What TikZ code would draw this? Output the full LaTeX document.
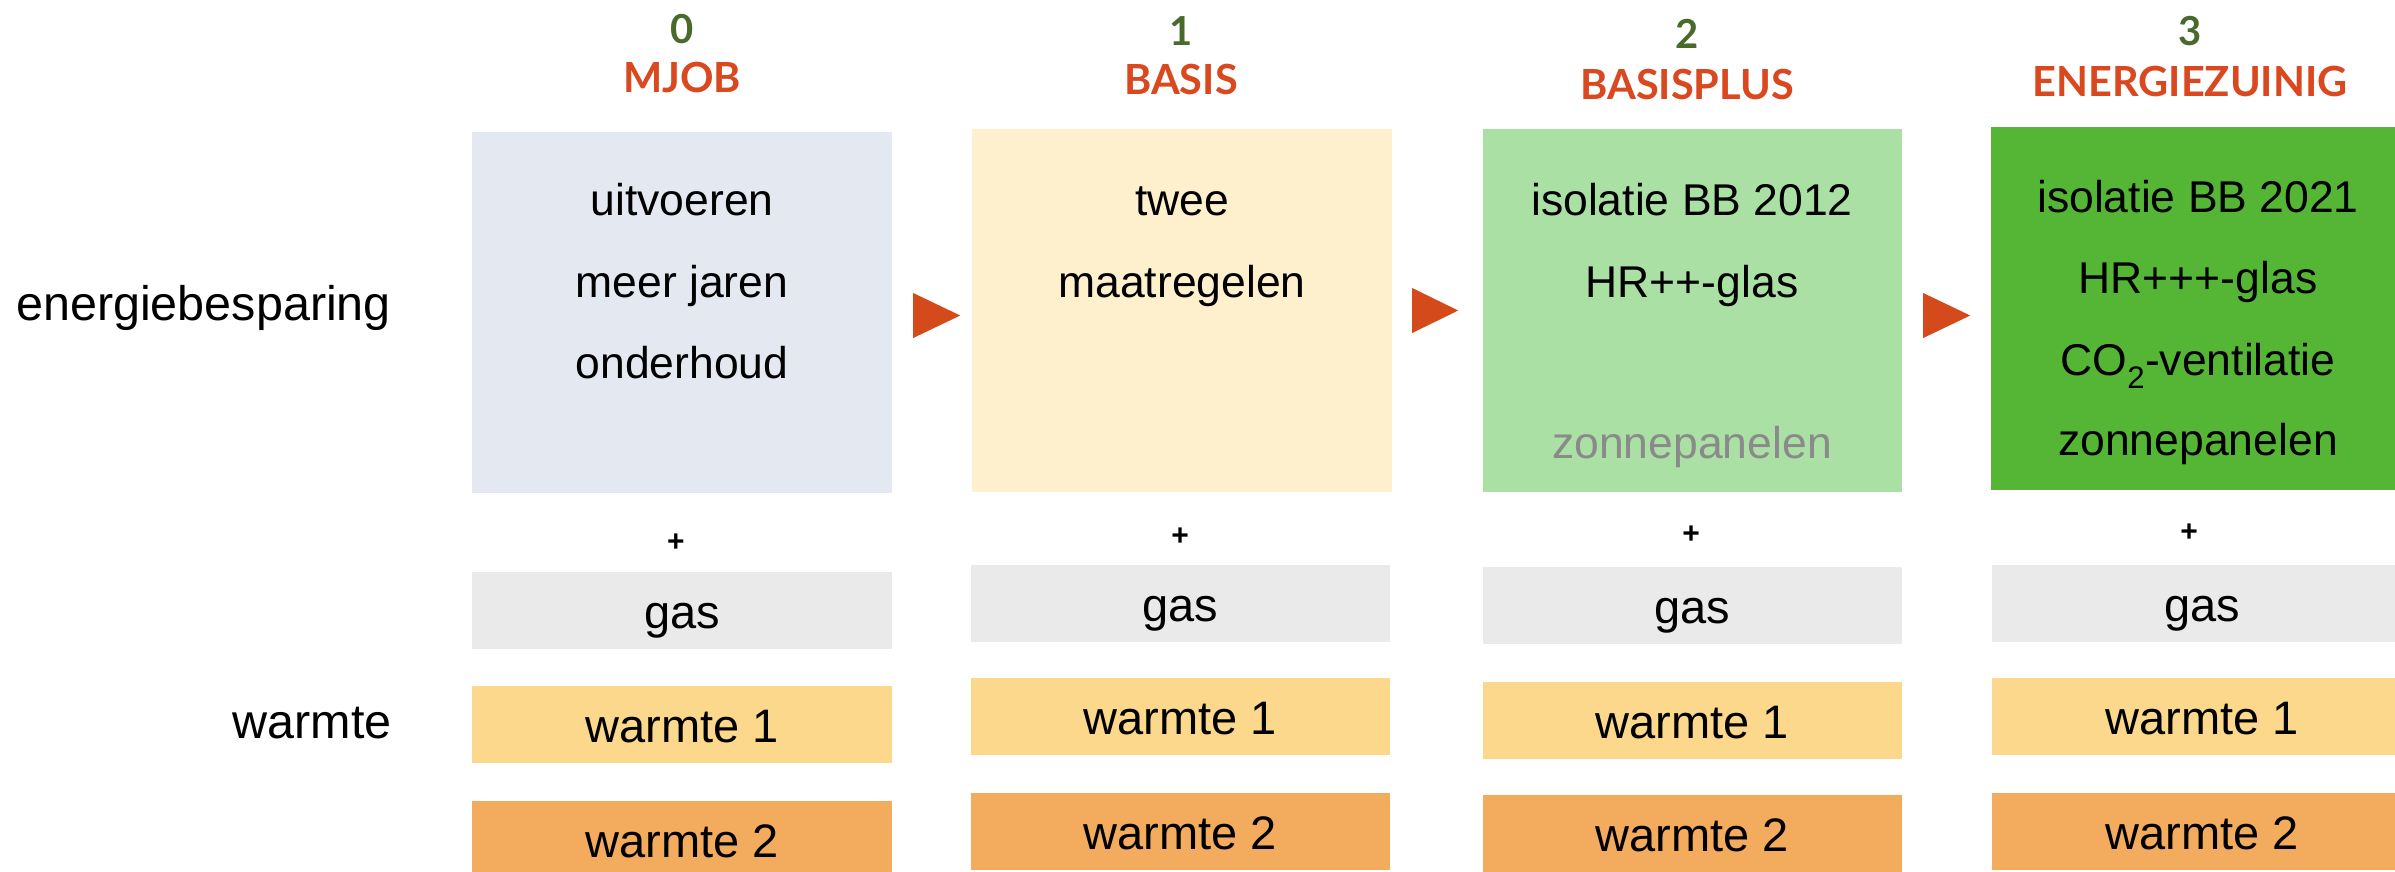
\documentclass[tikz,border=0pt]{standalone}
\usepackage{fontspec}
\setmainfont{Liberation Sans}
\newfontfamily\headfont{Lato}
\usetikzlibrary{calc}
\definecolor{cmjob}{HTML}{E4E8F0}
\definecolor{cbasis}{HTML}{FFF0CD}
\definecolor{cplus}{HTML}{ABE0A5}
\definecolor{czuinig}{HTML}{55B636}
\definecolor{cgas}{HTML}{EAEAEA}
\definecolor{cwone}{HTML}{FCD88D}
\definecolor{cwtwo}{HTML}{F3AB5E}
\definecolor{chead}{HTML}{D9481F}
\definecolor{carrow}{HTML}{D44A1A}
\definecolor{cnum}{HTML}{4A6A2C}
\definecolor{cfaded}{HTML}{8A8A8A}
\tikzset{
  bigbox/.style={rectangle, draw=none, inner sep=0pt, minimum width=420pt, minimum height=363pt},
  boxtxt/.style={anchor=base, inner sep=0pt, font=\fontsize{44.5}{53}\selectfont},
  rowbox/.style={rectangle, draw=none, inner sep=0pt, minimum width=420pt, minimum height=77pt,
    text height=36pt, text depth=0pt, font=\fontsize{47}{56}\selectfont},
  numtxt/.style={anchor=base, inner sep=0pt, text=cnum, font=\headfont\bfseries\fontsize{40}{46}\selectfont},
  headtxt/.style={anchor=base, inner sep=0pt, text=chead, font=\headfont\bfseries\fontsize{41.5}{48}\selectfont},
  plustxt/.style={inner sep=0pt, font=\bfseries\fontsize{30}{36}\selectfont},
  sidetxt/.style={inner sep=0pt, font=\fontsize{48.5}{58}\selectfont},
  arrowtri/.style={fill=carrow, draw=none}
}
\begin{document}
\begin{tikzpicture}[x=1pt,y=-1pt]
\useasboundingbox (0,0) rectangle (2395,871);
\fill[white] (0,0) rectangle (2395,871);

% side labels
\node[sidetxt, anchor=base west] (lenergie) at (16,320) {energiebesparing};
\node[sidetxt, anchor=base east] (lwarmte) at (392,738) {warmte};

% headings
\node[numtxt] (n0) at (682,43) {0};
\node[headtxt] (h0) at (682,92) {MJOB};
\node[numtxt] (n1) at (1181,45) {1};
\node[headtxt] (h1) at (1181,94) {BASIS};
\node[numtxt] (n2) at (1687,48) {2};
\node[headtxt] (h2) at (1687,99) {BASISPLUS};
\node[numtxt] (n3) at (2190,45) {3};
\node[headtxt] (h3) at (2190,96) {ENERGIEZUINIG};

% main boxes
\node[bigbox, fill=cmjob, minimum height=361pt] (b0) at (682,312.5) {};
\node[bigbox, fill=cbasis] (b1) at (1182,310.5) {};
\node[bigbox, fill=cplus, minimum width=419pt] (b2) at (1692.5,310.5) {};
\node[bigbox, fill=czuinig] (b3) at (2201,308.5) {};

% box texts
\node[boxtxt] (t0a) at (682,215) {uitvoeren};
\node[boxtxt] (t0b) at (682,297) {meer jaren};
\node[boxtxt] (t0c) at (682,378) {onderhoud};

\node[boxtxt] (t1a) at (1182,215) {twee};
\node[boxtxt] (t1b) at (1182,297) {maatregelen};

\node[boxtxt] (t2a) at (1692,215) {isolatie BB 2012};
\node[boxtxt] (t2b) at (1692,297) {HR++-glas};
\node[boxtxt, text=cfaded] (t2c) at (1692,458) {zonnepanelen};

\node[boxtxt] (t3a) at (2198,212) {isolatie BB 2021};
\node[boxtxt] (t3b) at (2198,293) {HR+++-glas};
\node[boxtxt] (t3c) at (2198,375) {CO\textsubscript{2}-ventilatie};
\node[boxtxt] (t3d) at (2198,455) {zonnepanelen};

% arrows between boxes
\fill[arrowtri] ($(b0.east)+(21,-19.5)$) -- ($(b0.east)+(68,3)$) -- ($(b0.east)+(21,25.5)$) -- cycle;
\fill[arrowtri] ($(b1.east)+(20,-22.5)$) -- ($(b1.east)+(66,0)$) -- ($(b1.east)+(20,22.5)$) -- cycle;
\fill[arrowtri] ($(b2.east)+(21,-17.5)$) -- ($(b2.east)+(68,5)$) -- ($(b2.east)+(21,27.5)$) -- cycle;

% plus signs
\node[plustxt] (p0) at (676,543) {+};
\node[plustxt] (p1) at (1180,537) {+};
\node[plustxt] (p2) at (1691,535) {+};
\node[plustxt] (p3) at (2189,533) {+};

% rows
\node[rowbox, fill=cgas] (g0) at (682,610.5) {gas};
\node[rowbox, fill=cwone] (wa0) at (682,724) {warmte 1};
\node[rowbox, fill=cwtwo] (wb0) at (682,839.5) {warmte 2};

\node[rowbox, fill=cgas, minimum width=419pt] (g1) at (1180.5,603.5) {gas};
\node[rowbox, fill=cwone, minimum width=419pt] (wa1) at (1180.5,716.5) {warmte 1};
\node[rowbox, fill=cwtwo, minimum width=419pt] (wb1) at (1180.5,831.5) {warmte 2};

\node[rowbox, fill=cgas, minimum width=419pt] (g2) at (1692.5,605) {gas};
\node[rowbox, fill=cwone, minimum width=419pt] (wa2) at (1692.5,720) {warmte 1};
\node[rowbox, fill=cwtwo, minimum width=419pt] (wb2) at (1692.5,833.5) {warmte 2};

\node[rowbox, fill=cgas] (g3) at (2202,603.5) {gas};
\node[rowbox, fill=cwone] (wa3) at (2202,716.5) {warmte 1};
\node[rowbox, fill=cwtwo] (wb3) at (2202,831.5) {warmte 2};
\end{tikzpicture}
\end{document}
